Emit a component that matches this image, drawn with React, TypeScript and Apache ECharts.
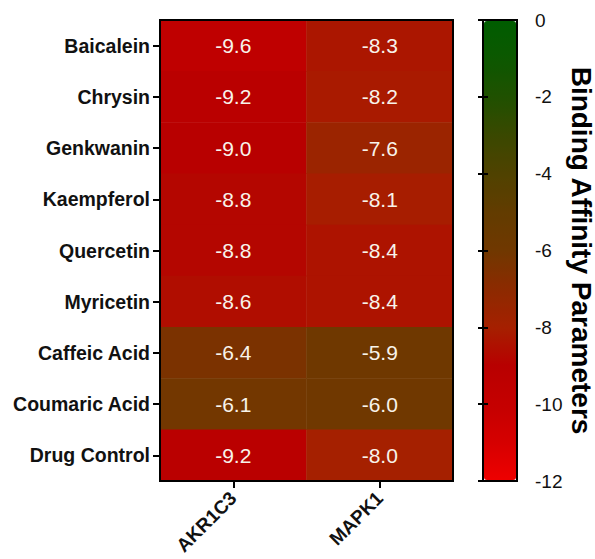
import React, { useEffect, useRef } from "react";
import * as echarts from "echarts";

// Compounds (rows, top to bottom) and protein targets (columns)
const compounds = [
  "Baicalein",
  "Chrysin",
  "Genkwanin",
  "Kaempferol",
  "Quercetin",
  "Myricetin",
  "Caffeic Acid",
  "Coumaric Acid",
  "Drug Control",
];
const targets = ["AKR1C3", "MAPK1"];

// Docking binding affinities (kcal/mol) per target
const akr1c3Values = [-9.6, -9.2, -9.0, -8.8, -8.8, -8.6, -6.4, -6.1, -9.2];
const mapk1Values = [-8.3, -8.2, -7.6, -8.1, -8.4, -8.4, -5.9, -6.0, -8.0];

// Colour scale from -12 (red) to 0 (green), one stop per unit
const scaleMin = -12;
const scaleMax = 0;
const scaleStep = 2;
const scaleColors = [
  "#EE0000", "#D50000", "#C40000", "#B80000", "#A52000", "#8C2A00", "#703800",
  "#623C00", "#504200", "#3A4800", "#205000", "#0C5800", "#005C00",
];

const FONT = "'Liberation Sans', Arial, sans-serif";

export default function App() {
  const ref = useRef<HTMLDivElement>(null);

  useEffect(() => {
    if (!ref.current) return;
    const chart = echarts.init(ref.current, undefined, { renderer: "svg" });

    const cells: [number, number, number][] = [];
    [akr1c3Values, mapk1Values].forEach((vals, xi) => {
      vals.forEach((v, yi) => cells.push([xi, yi, v]));
    });

    const plot = { left: 160, top: 20, width: 293, height: 461 };
    const bar = { left: 483, top: 20, width: 34, height: 461 };

    const barTicks = {
      show: true,
      inside: true,
      length: 5,
      lineStyle: { color: "#000", width: 2 },
    };

    chart.setOption({
      animation: false,
      backgroundColor: "#ffffff",
      textStyle: { fontFamily: FONT },
      grid: [
        {
          ...plot,
          show: true,
          borderColor: "#000",
          borderWidth: 2,
          z: 10,
          containLabel: false,
          outerBoundsMode: "none",
        },
        {
          ...bar,
          show: true,
          borderColor: "#000",
          borderWidth: 2,
          z: 10,
          containLabel: false,
          outerBoundsMode: "none",
        },
      ],
      xAxis: [
        {
          type: "category",
          gridIndex: 0,
          data: targets,
          z: 10,
          axisLine: { show: true, lineStyle: { color: "#000", width: 2 } },
          axisTick: {
            show: true,
            alignWithLabel: true,
            length: 7,
            lineStyle: { color: "#000", width: 2 },
          },
          axisLabel: {
            rotate: 45,
            margin: 14,
            color: "#111",
            fontSize: 19,
            fontWeight: "bold",
            fontFamily: FONT,
          },
          splitLine: { show: false },
        },
        { type: "value", gridIndex: 1, min: 0, max: 1, show: false },
      ],
      yAxis: [
        {
          type: "category",
          gridIndex: 0,
          data: compounds,
          inverse: true,
          z: 10,
          axisLine: { show: true, lineStyle: { color: "#000", width: 2 } },
          axisTick: {
            show: true,
            alignWithLabel: true,
            length: 7,
            lineStyle: { color: "#000", width: 2 },
          },
          axisLabel: {
            margin: 10,
            color: "#111",
            fontSize: 19.5,
            fontWeight: "bold",
            fontFamily: FONT,
          },
          splitLine: { show: false },
        },
        {
          type: "value",
          gridIndex: 1,
          position: "right",
          min: scaleMin,
          max: scaleMax,
          interval: scaleStep,
          z: 20,
          axisLine: { show: false },
          axisTick: barTicks,
          axisLabel: {
            margin: 18,
            color: "#111",
            fontSize: 19,
            fontFamily: FONT,
          },
          splitLine: { show: false },
          name: "Binding Affinity Parameters",
          nameLocation: "middle",
          nameRotate: -90,
          nameGap: 50,
          nameTextStyle: {
            color: "#000",
            fontSize: 28,
            fontWeight: "bold",
            fontFamily: FONT,
          },
        },
        {
          type: "value",
          gridIndex: 1,
          position: "left",
          min: scaleMin,
          max: scaleMax,
          interval: scaleStep,
          z: 20,
          axisLine: { show: false },
          axisTick: barTicks,
          axisLabel: { show: false },
          splitLine: { show: false },
        },
      ],
      visualMap: {
        type: "continuous",
        seriesIndex: 0,
        min: scaleMin,
        max: scaleMax,
        calculable: false,
        hoverLink: false,
        orient: "vertical",
        left: bar.left + 1,
        top: bar.top + 1,
        itemWidth: bar.width - 2,
        itemHeight: bar.height - 2,
        padding: 0,
        text: null,
        showLabel: false,
        inRange: { color: scaleColors },
        z: 1,
      },
      series: [
        {
          type: "heatmap",
          xAxisIndex: 0,
          yAxisIndex: 0,
          data: cells,
          label: {
            show: true,
            color: "#F8F3EA",
            fontSize: 21,
            fontFamily: FONT,
            formatter: (p: any) => Number(p.value[2]).toFixed(1),
          },
          itemStyle: { borderWidth: 0 },
          emphasis: { disabled: true },
        },
      ],
    });

    return () => chart.dispose();
  }, []);

  return (
    <div
      ref={ref}
      style={{
        position: "fixed",
        left: 0,
        top: 0,
        width: 595,
        height: 559,
        background: "#fff",
      }}
    />
  );
}
